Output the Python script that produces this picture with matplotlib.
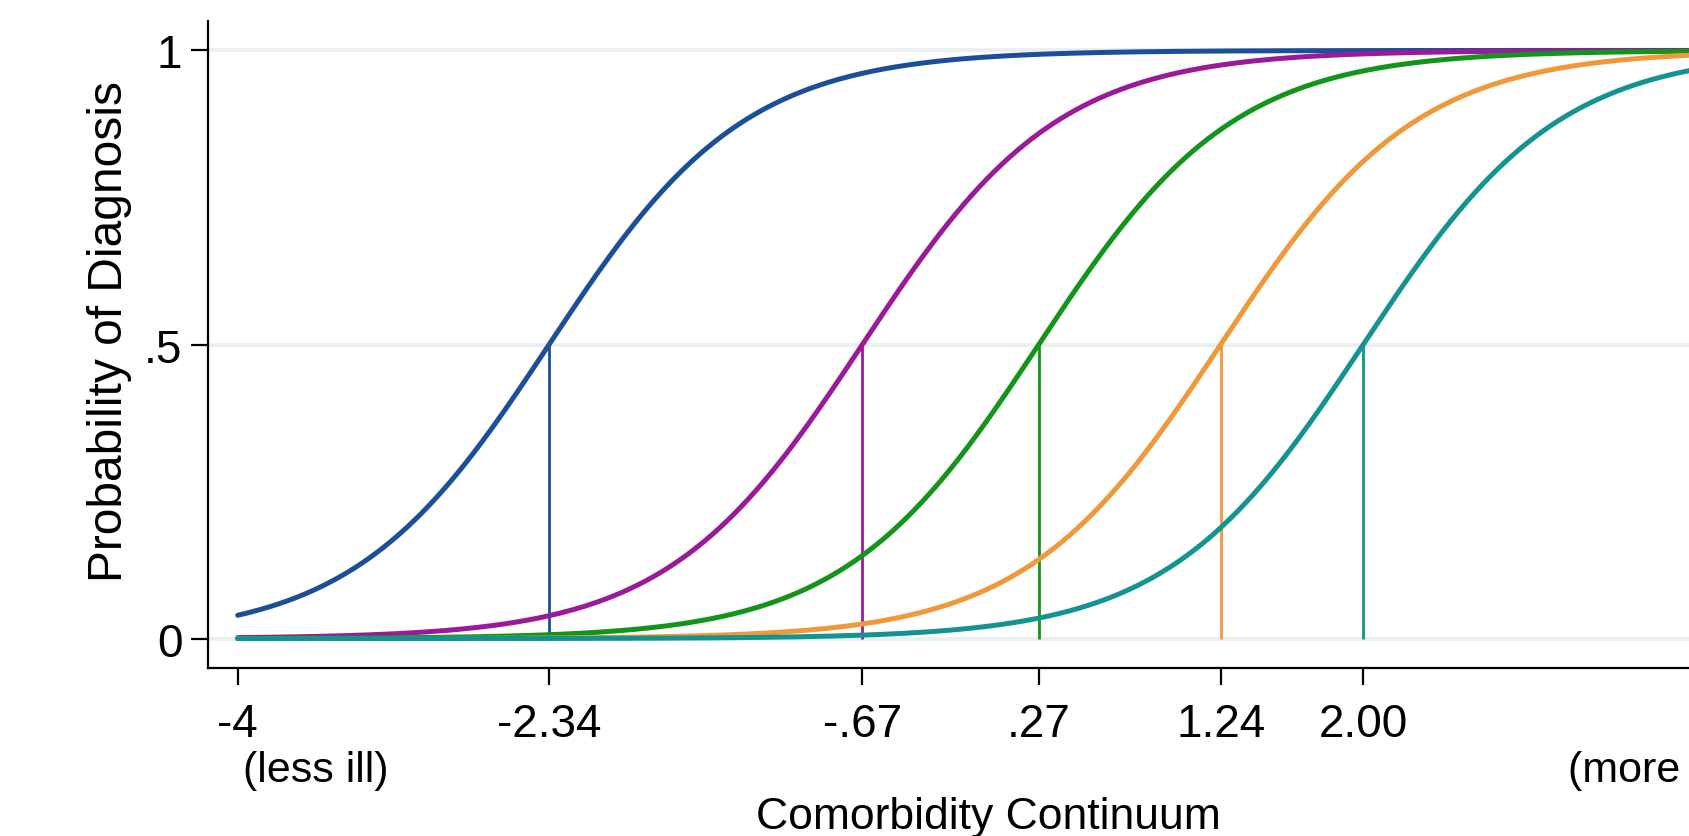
import numpy as np
import matplotlib.pyplot as plt

plt.rcParams['font.family'] = ['Liberation Sans', 'DejaVu Sans']

# Umbrales de cada diagnostico y pendiente comun
umbrales = [-2.34, -0.67, 0.27, 1.24, 2.00]
etiquetas_x = ['-2.34', '-.67', '.27', '1.24', '2.00']
pendiente = [1.92, 1.92, 1.92, 1.92, 1.92]
colores = ['#1b4f97', '#9a1a99', '#13941a', '#f0993a', '#139490']

# Curvas logisticas
x = np.linspace(-4, 4, 400)

fig = plt.figure(figsize=(16.89, 8.37), dpi=100)
ax = fig.add_axes([0.1232, 0.2007, 0.9236, 0.773])

for b, a, c in zip(umbrales, pendiente, colores):
    p = 1 / (1 + np.exp(-a * (x - b)))
    ax.plot(x, p, color=c, lw=3.6, solid_capstyle='round', zorder=3)
    ax.vlines(b, 0, 0.5, color=c, lw=2.0, zorder=2)

ax.set_xlim(-4.158, 4.158)
ax.set_ylim(-0.05, 1.05)

ax.set_yticks([0, 0.5, 1])
ax.set_yticklabels(['0', '.5', '1'])
ax.set_xticks([-4] + umbrales)
ax.set_xticklabels(['-4'] + etiquetas_x)

ax.grid(axis='y', color='#e8f0f0', lw=2.8, zorder=0)
ax.grid(axis='x', visible=False)

for s in ['top', 'right']:
    ax.spines[s].set_visible(False)
for s in ['left', 'bottom']:
    ax.spines[s].set_linewidth(1.6)

ax.tick_params(axis='both', labelsize=33, width=1.6, length=12.5)
ax.tick_params(axis='x', pad=12)
ax.tick_params(axis='y', pad=6)

ax.text(-3.97, -0.158, '(less ill)', fontsize=31, va='center', ha='left',
        transform=ax.get_xaxis_transform())
ax.text(3.09, -0.158, '(more ill)', fontsize=31, va='center', ha='left',
        transform=ax.get_xaxis_transform())

ax.set_ylabel('Probability of Diagnosis', fontsize=34.5, labelpad=9, y=0.522)
ax.set_xlabel('Comorbidity Continuum', fontsize=32, labelpad=36)

fig.savefig('out.png', dpi=100)
